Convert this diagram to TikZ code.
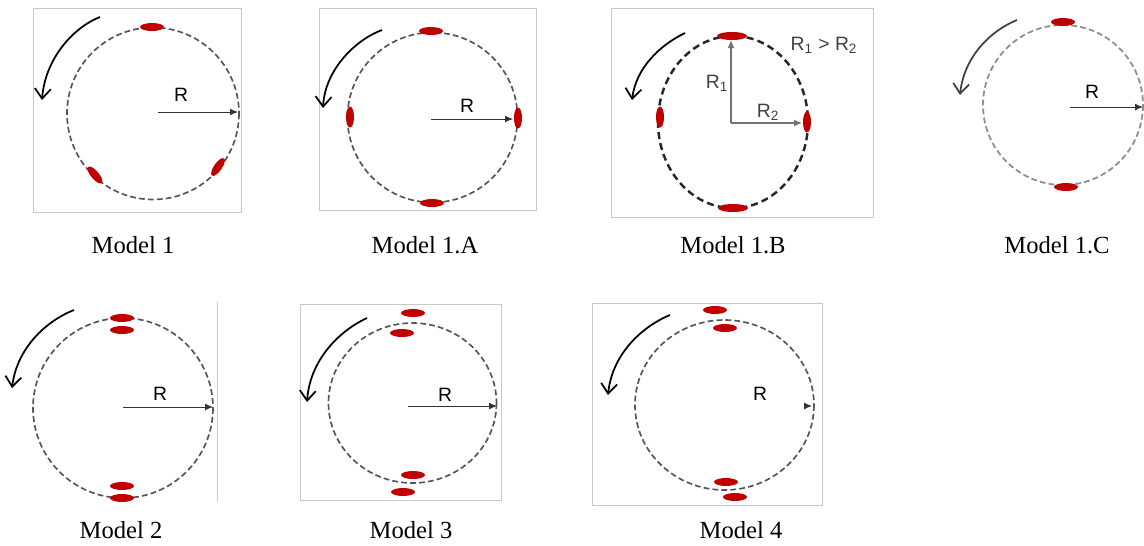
\documentclass[tikz,border=0pt]{standalone}
\usepackage{fontspec}
\setmainfont{Liberation Serif}
\newfontfamily\labelfont{Liberation Sans}
\usetikzlibrary{arrows.meta, shapes.geometric}
\definecolor{BlobRed}{HTML}{C00000}
\definecolor{RingGray}{HTML}{555555}
\definecolor{PaleGray}{HTML}{8E8E8E}
\definecolor{BoxGray}{HTML}{C8C8C8}
\definecolor{InkGray}{HTML}{404040}
\tikzset{
  panelbox/.style={draw=BoxGray, line width=0.5pt},
  ring/.style={draw=RingGray, line width=0.95pt, dash pattern=on 3.3pt off 1.8pt},
  ringbold/.style={draw=black!85, line width=1.4pt, dash pattern=on 4pt off 2.4pt},
  ringpale/.style={draw=PaleGray, line width=1pt, dash pattern=on 3.3pt off 1.8pt},
  blob/.style={ellipse, fill=BlobRed, inner sep=0pt, minimum width=0.48cm, minimum height=0.16cm},
  radarrow/.style={-{Latex[length=1.6mm, width=1.4mm]}, line width=0.55pt, draw=black!80},
  grayradarrow/.style={-{Latex[length=1.6mm, width=1.4mm]}, line width=0.7pt, draw=black!55},
  spin/.style={-{Straight Barb[length=2mm, width=3.2mm]}, line width=1pt},
  rlabel/.style={font=\labelfont\fontsize{11}{13}\selectfont, inner sep=1pt},
  captxt/.style={font=\fontsize{14}{16}\selectfont, inner sep=1pt}
}
\begin{document}
\begin{tikzpicture}[x=0.02cm, y=-0.02cm]
\useasboundingbox (0,0) rectangle (1144,545);

% Model 1
\draw[panelbox] (33,8) rectangle (241,212);
\draw[ring] (153,113.5) circle (86);
\node[blob] (m1top) at (152,27) {};
\node[blob, minimum width=0.42cm, rotate=-50] (m1left) at (95,175) {};
\node[blob, minimum width=0.42cm, rotate=55] (m1right) at (218,167) {};
\coordinate (m1c) at (158,112);
\coordinate (m1e) at (238,112);
\draw[radarrow] (m1c) -- (m1e);
\node[rlabel] (m1r) at (181,95) {R};
\coordinate (m1s) at (100,17);
\coordinate (m1t) at (42,100);
\draw[spin] (m1s) .. controls (72,28) and (45,60) .. (m1t);
\node[captxt] (m1cap) at (133,245) {Model 1};

% Model 1.A
\draw[panelbox] (319,8) rectangle (536,210);
\draw[ring] (432.5,117.5) circle (85);
\node[blob] (m1atop) at (431,31) {};
\node[blob] (m1abot) at (432,203) {};
\node[blob, minimum width=0.42cm, rotate=90] (m1aleft) at (350,117) {};
\node[blob, minimum width=0.42cm, rotate=90] (m1aright) at (518,118) {};
\coordinate (m1ac) at (431,119);
\coordinate (m1ae) at (513,119);
\draw[radarrow] (m1ac) -- (m1ae);
\node[rlabel] (m1ar) at (467,106) {R};
\coordinate (m1as) at (382,30);
\coordinate (m1at) at (323,108);
\draw[spin] (m1as) .. controls (355,40) and (325,70) .. (m1at);
\node[captxt] (m1acap) at (425,245) {Model 1.A};

% Model 1.B
\draw[panelbox] (611,8) rectangle (873,217);
\draw[ringbold] (733,122) ellipse (75 and 86);
\node[blob, minimum width=0.6cm] (m1btop) at (732,36) {};
\node[blob, minimum width=0.6cm] (m1bbot) at (733,208) {};
\node[blob, minimum width=0.42cm, rotate=90] (m1bleft) at (660,117) {};
\node[blob, minimum width=0.42cm, rotate=90] (m1bright) at (807,122) {};
\coordinate (m1bc) at (731,123);
\coordinate (m1bn) at (731,40);
\coordinate (m1be) at (802,123);
\draw[grayradarrow] (m1bc) -- (m1bn);
\draw[grayradarrow] (m1bc) -- (m1be);
\node[rlabel, text=InkGray] (m1br1) at (717,83) {R\textsubscript{1}};
\node[rlabel, text=InkGray] (m1br2) at (768,112) {R\textsubscript{2}};
\node[rlabel, text=InkGray] (m1brel) at (824,45) {R\textsubscript{1} > R\textsubscript{2}};
\coordinate (m1bs) at (685,33);
\coordinate (m1bt) at (632,100);
\draw[spin] (m1bs) .. controls (660,45) and (636,68) .. (m1bt);
\node[captxt] (m1bcap) at (733,245) {Model 1.B};

% Model 1.C
\draw[ringpale] (1063,105) circle (80);
\node[blob] (m1ctop) at (1063,22) {};
\node[blob] (m1cbot) at (1066,187) {};
\coordinate (m1cc) at (1070,107);
\coordinate (m1ce) at (1143,107);
\draw[radarrow] (m1cc) -- (m1ce);
\node[rlabel] (m1cr) at (1092,92) {R};
\coordinate (m1cs) at (1017,20);
\coordinate (m1ct) at (960,95);
\draw[spin, draw=InkGray] (m1cs) .. controls (990,31) and (964,57) .. (m1ct);
\node[captxt] (m1ccap) at (1057,245) {Model 1.C};

% Model 2
\draw[panelbox] (217,302) -- (217,502);
\draw[ring] (123,408) circle (90);
\node[blob] (m2top) at (122,318) {};
\node[blob] (m2topin) at (122,330) {};
\node[blob] (m2botin) at (122,486) {};
\node[blob] (m2bot) at (122,498) {};
\coordinate (m2c) at (123,407);
\coordinate (m2e) at (213,407);
\draw[radarrow] (m2c) -- (m2e);
\node[rlabel] (m2r) at (160,394) {R};
\coordinate (m2s) at (74,310);
\coordinate (m2t) at (12,388);
\draw[spin] (m2s) .. controls (46,321) and (17,348) .. (m2t);
\node[captxt] (m2cap) at (121,530) {Model 2};

% Model 3
\draw[panelbox] (300,304) rectangle (501,500);
\draw[ring] (412.5,403) ellipse (84 and 80);
\node[blob] (m3top) at (413,313) {};
\node[blob] (m3topin) at (402,333) {};
\node[blob] (m3botin) at (413,475) {};
\node[blob] (m3bot) at (403,492) {};
\coordinate (m3c) at (408,406);
\coordinate (m3e) at (497,406);
\draw[radarrow] (m3c) -- (m3e);
\node[rlabel] (m3r) at (445,395) {R};
\coordinate (m3s) at (367,318);
\coordinate (m3t) at (307,402);
\draw[spin] (m3s) .. controls (339,331) and (310,360) .. (m3t);
\node[captxt] (m3cap) at (411,530) {Model 3};

% Model 4
\draw[panelbox] (592,303) rectangle (822,505);
\draw[ring] (724.5,405) ellipse (89.5 and 85);
\node[blob] (m4top) at (715,310) {};
\node[blob] (m4topin) at (725,328) {};
\node[blob] (m4botin) at (726,482) {};
\node[blob] (m4bot) at (735,497) {};
\coordinate (m4c) at (805,406);
\coordinate (m4e) at (812,406);
\draw[radarrow] (m4c) -- (m4e);
\node[rlabel] (m4r) at (760,394) {R};
\coordinate (m4s) at (670,315);
\coordinate (m4t) at (608,395);
\draw[spin] (m4s) .. controls (641,327) and (612,355) .. (m4t);
\node[captxt] (m4cap) at (741,530) {Model 4};
\end{tikzpicture}
\end{document}
